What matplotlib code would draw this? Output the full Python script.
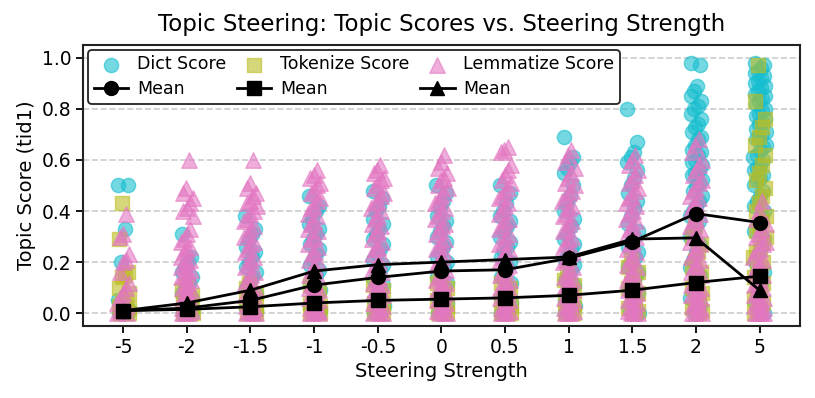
import matplotlib
matplotlib.use('Agg')
import matplotlib.pyplot as plt
import numpy as np

# steering strengths (categorical x)
strengths = ['-5', '-2', '-1.5', '-1', '-0.5', '0', '0.5', '1', '1.5', '2', '5']

# per-strength scores, in hundredths
dict_scores = [
	[50, 50, 33, 20, 5, 2, 0, 0, 0, 0],
	[31, 22, 20, 18, 16, 14, 12, 10, 8, 6, 5, 4, 3, 2, 1, 0, 0, 0],
	[38, 33, 31, 29, 26, 24, 22, 20, 18, 16, 14, 12, 10, 8, 6, 4, 2, 1, 0, 0],
	[46, 42, 40, 37, 35, 33, 31, 29, 27, 25, 23, 21, 19, 17, 15, 13, 11, 9, 7, 5, 3, 1, 0, 0],
	[48, 45, 42, 40, 37, 35, 33, 31, 29, 27, 25, 23, 21, 19, 17, 15, 13, 11, 9, 7, 5, 3, 1, 0, 0],
	[50, 47, 44, 41, 38, 36, 34, 32, 30, 28, 26, 24, 22, 20, 18, 16, 14, 12, 10, 8, 6, 4, 2, 0, 0],
	[50, 47, 43, 40, 38, 36, 34, 32, 30, 28, 26, 24, 22, 20, 18, 16, 14, 12, 10, 8, 6, 4, 2, 0, 0],
	[69, 61, 59, 57, 55, 50, 46, 43, 40, 37, 34, 31, 29, 27, 25, 23, 21, 19, 17, 15, 13, 11, 9, 7, 5, 3,
	 1, 0, 0],
	[80, 67, 63, 61, 59, 56, 53, 50, 47, 44, 41, 38, 35, 32, 30, 28, 26, 24, 22, 20, 18, 16, 14, 12, 10,
	 8, 6, 4, 2, 0, 0],
	[98, 97, 89, 87, 85, 83, 81, 80, 78, 76, 74, 73, 71, 69, 68, 66, 64, 63, 62, 60, 59, 58, 56, 55, 54,
	 52, 51, 50, 48, 46, 44, 42, 40, 38, 36, 34, 32, 30, 27, 24, 21, 18, 15, 12, 9, 6, 3, 0, 0],
	[98, 97, 96, 95, 94, 93, 92, 91, 90, 89, 88, 87, 86, 85, 84, 83, 82, 80, 79, 78, 77, 76, 75, 74, 72,
	 71, 70, 69, 68, 66, 65, 64, 62, 61, 60, 58, 57, 56, 54, 53, 52, 50, 48, 46, 44, 42, 40, 38, 35, 32,
	 29, 26, 23, 20, 16, 12, 8, 4, 0],
]

tokenize_scores = [
	[43, 29, 16, 15, 14, 10, 8, 6, 4, 3, 2, 1, 1, 0, 0, 0, 0, 0],
	[11, 9, 7, 6, 5, 4, 3, 2, 1, 0, 0, 0],
	[12, 10, 8, 6, 5, 4, 3, 2, 1, 0, 0, 0],
	[13, 11, 9, 7, 5, 4, 3, 2, 1, 0, 0, 0],
	[14, 11, 9, 7, 6, 4, 3, 2, 1, 0, 0, 0],
	[14, 12, 10, 8, 6, 5, 3, 2, 1, 0, 0, 0],
	[15, 12, 10, 8, 6, 5, 3, 2, 1, 0, 0, 0],
	[16, 13, 11, 9, 7, 5, 4, 2, 1, 0, 0, 0],
	[21, 18, 16, 14, 12, 10, 8, 6, 4, 2, 1, 0, 0],
	[34, 30, 27, 24, 21, 18, 16, 14, 12, 10, 8, 6, 4, 2, 1, 0, 0],
	[97, 83, 76, 73, 69, 66, 62, 58, 55, 52, 49, 46, 43, 40, 38, 36, 34, 32, 30, 28, 26, 24, 22, 20,
	 18, 16, 14, 12, 10, 8, 6, 4, 2, 0, 0],
]

lemmatize_scores = [
	[39, 31, 30, 23, 21, 20, 16, 12, 10, 8, 6, 4, 3, 2, 1, 0, 0],
	[60, 49, 47, 45, 43, 41, 40, 38, 33, 31, 29, 28, 26, 25, 24, 22, 21, 20, 19, 18, 17, 16, 15, 14,
	 13, 12, 11, 10, 9, 8, 7, 6, 5, 4, 3, 2, 1, 0, 0, 0],
	[60, 51, 49, 47, 46, 44, 43, 42, 40, 39, 37, 36, 34, 33, 31, 30, 28, 27, 25, 24, 22, 21, 19, 18,
	 16, 15, 13, 12, 10, 9, 8, 7, 6, 5, 4, 3, 2, 1, 1, 0, 0, 0],
	[56, 54, 53, 51, 50, 48, 47, 45, 44, 42, 41, 39, 38, 36, 35, 33, 32, 30, 29, 27, 26, 24, 23, 21,
	 20, 18, 17, 15, 14, 12, 11, 10, 9, 8, 7, 6, 5, 4, 3, 2, 1, 1, 0, 0, 0],
	[58, 56, 55, 53, 52, 50, 49, 47, 46, 44, 43, 41, 40, 38, 37, 35, 34, 32, 31, 29, 28, 26, 25, 23,
	 22, 20, 19, 17, 16, 14, 13, 12, 11, 10, 9, 8, 7, 6, 5, 4, 3, 2, 1, 0, 0, 0],
	[62, 59, 57, 55, 53, 52, 50, 49, 47, 46, 44, 43, 41, 40, 38, 37, 35, 34, 32, 31, 29, 28, 26, 25,
	 23, 22, 20, 19, 17, 16, 14, 13, 12, 11, 10, 9, 8, 7, 6, 5, 4, 3, 2, 1, 0, 0, 0],
	[65, 64, 63, 58, 56, 54, 52, 51, 49, 48, 46, 45, 43, 42, 40, 39, 37, 36, 34, 33, 31, 30, 28, 27,
	 25, 24, 22, 21, 19, 18, 16, 15, 13, 12, 11, 10, 9, 8, 7, 6, 5, 4, 3, 2, 1, 0, 0, 0],
	[64, 62, 59, 57, 55, 53, 51, 50, 48, 47, 45, 44, 42, 41, 39, 38, 36, 35, 33, 32, 30, 29, 27, 26,
	 24, 23, 21, 20, 18, 17, 15, 14, 13, 12, 11, 10, 9, 8, 7, 6, 5, 4, 3, 2, 1, 0, 0, 0],
	[62, 60, 58, 56, 54, 52, 51, 49, 48, 46, 45, 43, 42, 40, 39, 37, 36, 34, 33, 31, 30, 28, 27, 25,
	 24, 22, 21, 19, 18, 16, 15, 13, 12, 11, 10, 9, 8, 7, 6, 5, 4, 3, 2, 1, 0, 0, 0],
	[68, 66, 63, 60, 58, 56, 54, 52, 51, 49, 48, 46, 45, 43, 42, 40, 39, 37, 36, 34, 33, 31, 30, 28,
	 27, 25, 24, 22, 21, 19, 18, 16, 15, 13, 12, 11, 10, 9, 8, 7, 6, 5, 4, 3, 2, 1, 0, 0, 0],
	[44, 40, 37, 35, 33, 31, 30, 28, 27, 25, 24, 22, 21, 19, 18, 16, 15, 13, 12, 11, 10, 9, 8, 7, 6,
	 5, 4, 3, 2, 1, 0, 0, 0, 0],
]

# means per strength
dict_mean = [0.01, 0.02, 0.05, 0.11, 0.14, 0.165, 0.17, 0.215, 0.28, 0.39, 0.355]
tokenize_mean = [0.01, 0.015, 0.025, 0.04, 0.05, 0.055, 0.06, 0.07, 0.09, 0.12, 0.145]
lemmatize_mean = [0.01, 0.04, 0.09, 0.165, 0.19, 0.2, 0.21, 0.22, 0.29, 0.295, 0.09]


def jitter(n, width=0.1, phase=0.0):
	# deterministic spread so points don't stack exactly
	k = np.arange(n)
	return width * (((k * 0.7549 + phase) % 1.0) * 2 - 1)


fig = plt.figure(figsize=(8.15, 3.98), dpi=100)
ax = fig.add_axes([0.102, 0.181, 0.880, 0.706])

xs = np.arange(len(strengths))
series = [
	(dict_scores, '#17becf', 'o', 105, 0.1),
	(tokenize_scores, '#bcbd22', 's', 95, 0.4),
	(lemmatize_scores, '#e377c2', '^', 125, 0.7),
]

first = []
for i, x in enumerate(xs):
	for vals, col, mk, sz, ph in series:
		v = np.array(vals[i]) / 100.0
		h = ax.scatter(x + jitter(len(v), phase=ph), v, c=col, marker=mk, s=sz, alpha=0.6,
					   linewidths=1.0, zorder=2)
		if i == 0:
			first.append(h)

l1, = ax.plot(xs, dict_mean, c='k', marker='o', lw=2, ms=10, zorder=3)
l2, = ax.plot(xs, tokenize_mean, c='k', marker='s', lw=2, ms=10, zorder=3)
l3, = ax.plot(xs, lemmatize_mean, c='k', marker='^', lw=2, ms=10, zorder=3)

leg_h = [first[0], l1, first[1], l2, first[2], l3]
leg_l = ['Dict Score', 'Mean', 'Tokenize Score', 'Mean', 'Lemmatize Score', 'Mean']
leg = ax.legend(leg_h, leg_l, ncol=3, loc='upper left', fontsize=12.5, framealpha=1,
				edgecolor='#222222', borderpad=0.3, labelspacing=0.4, handletextpad=0.5,
				columnspacing=0.6, handlelength=2.0, borderaxespad=0.3)
leg.get_frame().set_linewidth(1.3)

ax.set_xticks(xs)
ax.set_xticklabels(strengths)
ax.set_xlim(-0.63, 10.64)
ax.set_ylim(-0.05, 1.05)
ax.set_yticks([0.0, 0.2, 0.4, 0.6, 0.8, 1.0])
ax.tick_params(labelsize=13.5, width=1.3, length=5)
ax.grid(axis='y', ls='--', c='#cccccc', lw=1.2)
ax.set_axisbelow(True)
for s in ax.spines.values():
	s.set_linewidth(1.5)
	s.set_color('#222222')

ax.set_xlabel('Steering Strength', fontsize=14)
ax.set_ylabel('Topic Score (tid1)', fontsize=14)
ax.set_title('Topic Steering: Topic Scores vs. Steering Strength', fontsize=16.5, pad=10)

fig.savefig('out.png', dpi=100)
